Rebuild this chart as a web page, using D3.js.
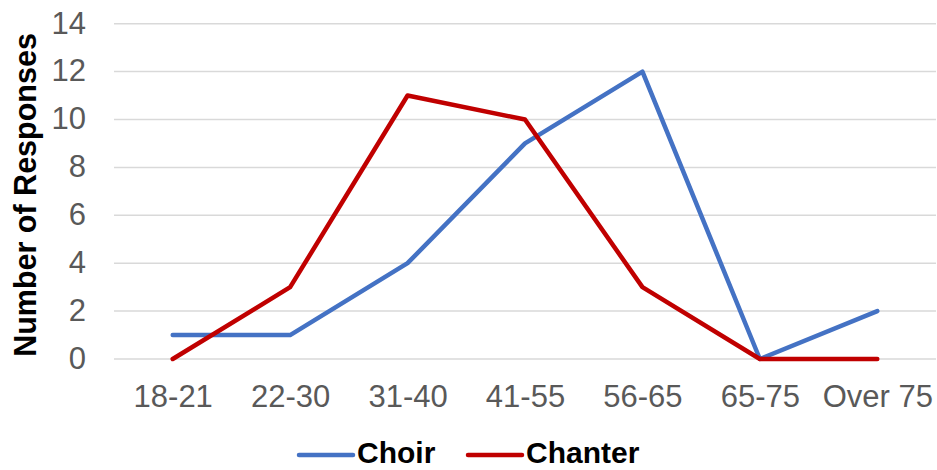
<!DOCTYPE html>
<html>
<head>
<meta charset="utf-8">
<script src="https://cdn.jsdelivr.net/npm/d3@7"></script>
<style>
  html, body { margin: 0; padding: 0; background: #fff; }
  svg { display: block; font-family: "Liberation Sans", Arial, sans-serif; }
</style>
</head>
<body>
<svg id="chart" width="937" height="470"></svg>
<script>
// Age groups and response counts per group
const categories = ["18-21", "22-30", "31-40", "41-55", "56-65", "65-75", "Over 75"];
const choir = [1, 1, 4, 9, 12, 0, 2];
const chanter = [0, 3, 11, 10, 3, 0, 0];
const yTicks = [0, 2, 4, 6, 8, 10, 12, 14];

const series = [
  { name: "Choir", values: choir, color: "#4472C4" },
  { name: "Chanter", values: chanter, color: "#C00000" }
];

const svg = d3.select("#chart");
const margin = { left: 114, right: 1, top: 23.7, bottom: 111 };
const width = 937, height = 470;
const fontSize = 31;

const x = d3.scalePoint()
  .domain(categories)
  .range([margin.left, width - margin.right])
  .padding(0.5);

const y = d3.scaleLinear()
  .domain([0, 14])
  .range([height - margin.bottom, margin.top]);

// Horizontal gridlines
svg.append("g")
  .selectAll("line")
  .data(yTicks)
  .join("line")
  .attr("x1", margin.left)
  .attr("x2", width - margin.right)
  .attr("y1", d => y(d))
  .attr("y2", d => y(d))
  .attr("stroke", "#d9d9d9")
  .attr("stroke-width", 1.5);

// Y axis labels
const yAxis = svg.append("g")
  .attr("transform", `translate(86,0)`)
  .call(d3.axisLeft(y).tickValues(yTicks).tickSize(0).tickPadding(0));
yAxis.select(".domain").remove();
yAxis.selectAll("text")
  .attr("font-size", fontSize)
  .attr("font-family", "Liberation Sans, Arial, sans-serif")
  .attr("fill", "#595959")
  .attr("dy", "0.3em");

// X axis labels
const xAxis = svg.append("g")
  .attr("transform", `translate(0,${y(0) + 48})`)
  .call(d3.axisBottom(x).tickSize(0).tickPadding(0));
xAxis.select(".domain").remove();
xAxis.selectAll("text")
  .attr("y", 0)
  .attr("font-size", fontSize)
  .attr("font-family", "Liberation Sans, Arial, sans-serif")
  .attr("fill", "#595959")
  .attr("dy", 0);

// Y axis title
svg.append("text")
  .attr("transform", `translate(36,195) rotate(-90)`)
  .attr("text-anchor", "middle")
  .attr("font-size", 30.5)
  .attr("font-weight", "bold")
  .attr("fill", "#000")
  .text("Number of Responses");

// Series lines
const line = d3.line()
  .x((d, i) => x(categories[i]))
  .y(d => y(d));

svg.append("g")
  .selectAll("path")
  .data(series)
  .join("path")
  .attr("d", d => line(d.values))
  .attr("fill", "none")
  .attr("stroke", d => d.color)
  .attr("stroke-width", 4.5)
  .attr("stroke-linecap", "round")
  .attr("stroke-linejoin", "round");

// Legend
const legendX = [299, 468];
const legend = svg.append("g")
  .selectAll("g")
  .data(series)
  .join("g")
  .attr("transform", (d, i) => `translate(${legendX[i]},455)`);
legend.append("line")
  .attr("x1", 0).attr("x2", 54)
  .attr("y1", 0).attr("y2", 0)
  .attr("stroke", d => d.color)
  .attr("stroke-width", 4.5)
  .attr("stroke-linecap", "round");
legend.append("text")
  .attr("x", 58)
  .attr("y", 8)
  .attr("font-size", 30)
  .attr("font-weight", "bold")
  .attr("fill", "#000")
  .text(d => d.name);
</script>
</body>
</html>
